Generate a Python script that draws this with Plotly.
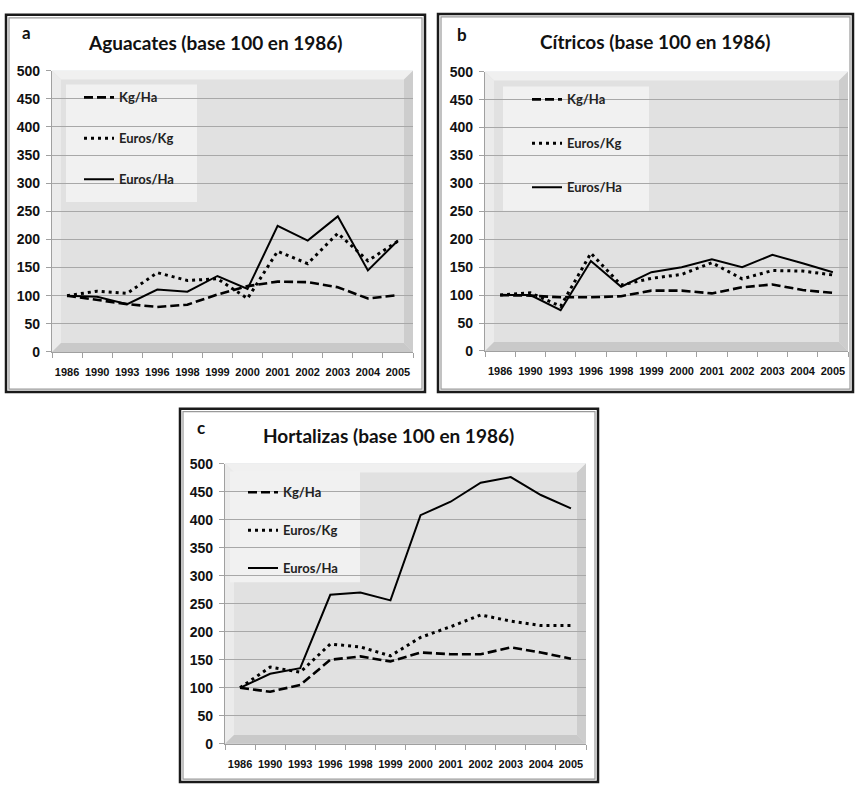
import plotly.graph_objects as go

W, H = 856, 793

years = ["1986", "1990", "1993", "1996", "1998", "1999", "2000", "2001", "2002", "2003", "2004", "2005"]
series_names = ["Kg/Ha", "Euros/Kg", "Euros/Ha"]

# Panel a: Aguacates
agu_kgha = [100, 92, 85, 80, 84, 102, 117, 125, 124, 115, 95, 101]
agu_eurkg = [100, 108, 104, 141, 127, 130, 95, 179, 157, 211, 162, 197]
agu_eurha = [100, 98, 85, 111, 107, 135, 112, 224, 198, 241, 145, 198]

# Panel b: Cítricos
cit_kgha = [100, 99, 96, 96, 98, 108, 108, 103, 114, 119, 109, 104]
cit_eurkg = [100, 104, 80, 175, 118, 130, 137, 158, 129, 144, 143, 136]
cit_eurha = [100, 100, 73, 161, 115, 141, 150, 164, 150, 172, 157, 141]

# Panel c: Hortalizas
hor_kgha = [100, 93, 105, 150, 156, 147, 163, 160, 160, 172, 163, 152]
hor_eurkg = [100, 137, 128, 178, 173, 157, 190, 209, 230, 219, 211, 211]
hor_eurha = [100, 125, 135, 266, 270, 256, 408, 432, 466, 476, 444, 420]

titles = ["Aguacates (base 100 en 1986)", "Cítricos (base 100 en 1986)", "Hortalizas (base 100 en 1986)"]
letters = ["a", "b", "c"]


def px(x):
    return x / W


def py(y):
    return 1 - y / H


panels = [
    dict(data=[agu_kgha, agu_eurkg, agu_eurha], plot=(52, 413, 64, 351), frame=(6, 425, 7, 392),
         title=(216, 35), letter=(27, 25), legbox=(66, 197, 78, 198), leg=(79, 76), gap=21),
    dict(data=[cit_kgha, cit_eurkg, cit_eurha], plot=(485, 848, 65, 350), frame=(438, 853, 6, 392),
         title=(655, 34), letter=(462, 27), legbox=(503, 649, 80, 207), leg=(527, 78), gap=24),
    dict(data=[hor_kgha, hor_eurkg, hor_eurha], plot=(225, 586, 465, 751), frame=(180, 598, 409, 790),
         title=(388, 436), letter=(201, 428), legbox=(230, 360, 473, 586), leg=(243, 479), gap=18),
]

styles = [
    dict(dash="9px,4px", width=2.6),
    dict(dash="3px,4px", width=3),
    dict(dash="solid", width=2),
]

tick_font = dict(family="Liberation Sans, Arial, sans-serif", size=14, color="#111", weight="bold")
leg_font = dict(family="Lato, Open Sans, sans-serif", size=13, color="#222", weight="bold")

fig = go.Figure()
shapes = []
annotations = []
layout = dict(width=W, height=H, margin=dict(l=0, r=0, t=0, b=0), paper_bgcolor="white",
              showlegend=True)

for i, p in enumerate(panels):
    sfx = "" if i == 0 else str(i + 1)
    x0, x1, y0, y1 = p["plot"]
    legname = "legend" + sfx
    for j, (name, vals) in enumerate(zip(series_names, p["data"])):
        fig.add_trace(go.Scatter(
            x=years, y=vals, mode="lines", name=name,
            line=dict(color="black", dash=styles[j]["dash"], width=styles[j]["width"]),
            xaxis="x" + sfx, yaxis="y" + sfx, legend=legname,
            legendgroup=f"g{i}{j}", hoverinfo="skip"))
    layout["xaxis" + sfx] = dict(
        domain=[px(x0), px(x1)], anchor="y" + sfx, type="category", range=[-0.5, 11.5],
        tickson="boundaries", ticks="outside", ticklen=5, tickcolor="#a0a0a0",
        showline=True, linecolor="#a0a0a0", linewidth=1.2, showgrid=False, tickangle=0,
        tickfont=dict(tick_font, size=11), ticklabelstandoff=10, fixedrange=True)
    layout["yaxis" + sfx] = dict(
        domain=[py(y1), py(y0)], anchor="x" + sfx, range=[0, 500], dtick=50,
        ticks="outside", ticklen=5, tickcolor="#a0a0a0",
        showline=True, linecolor="#a0a0a0", linewidth=1.2,
        showgrid=True, gridcolor="#a8a8a8", gridwidth=1, zeroline=False,
        tickfont=tick_font, ticklabelstandoff=3, fixedrange=True)
    lx, ly = p["leg"]
    layout[legname] = dict(
        x=px(lx), y=py(ly), xanchor="left", yanchor="top", bgcolor="rgba(0,0,0,0)",
        font=leg_font, tracegroupgap=p["gap"], itemwidth=30, traceorder="grouped")

    # plot background bevel
    b = 9
    shapes.append(dict(type="rect", xref="paper", yref="paper", x0=px(x0), x1=px(x1), y0=py(y1), y1=py(y0),
                       fillcolor="#e1e1e1", line=dict(width=0), layer="below"))
    def poly(pts, color):
        path = "M " + " L ".join(f"{px(a)},{py(c)}" for a, c in pts) + " Z"
        shapes.append(dict(type="path", xref="paper", yref="paper", path=path, fillcolor=color,
                           line=dict(width=0), layer="below"))
    poly([(x0, y0), (x1, y0), (x1 - b, y0 + b), (x0 + b, y0 + b)], "#f0f0f0")
    poly([(x0, y0), (x0 + b, y0 + b), (x0 + b, y1 - b), (x0, y1)], "#ebebeb")
    poly([(x1, y0), (x1, y1), (x1 - b, y1 - b), (x1 - b, y0 + b)], "#cdcdcd")
    poly([(x0, y1), (x0 + b, y1 - b), (x1 - b, y1 - b), (x1, y1)], "#c9c9c9")
    # legend box
    bx0, bx1, by0, by1 = p["legbox"]
    shapes.append(dict(type="rect", xref="paper", yref="paper", x0=px(bx0), x1=px(bx1), y0=py(by1), y1=py(by0),
                       fillcolor="#f1f1f1", line=dict(width=0), layer="between"))
    # frame
    fx0, fx1, fy0, fy1 = p["frame"]
    shapes.append(dict(type="rect", xref="paper", yref="paper", x0=px(fx0), x1=px(fx1), y0=py(fy1), y1=py(fy0),
                       line=dict(color="#1a1a1a", width=2.5), fillcolor="rgba(0,0,0,0)", layer="above"))
    shapes.append(dict(type="rect", xref="paper", yref="paper", x0=px(fx0 + 3), x1=px(fx1 - 3), y0=py(fy1 - 3), y1=py(fy0 + 3),
                       line=dict(color="#9a9a9a", width=1.2), fillcolor="rgba(0,0,0,0)", layer="above"))
    tx, ty = p["title"]
    annotations.append(dict(text=titles[i], x=px(tx), y=py(ty), xref="paper", yref="paper",
                            xanchor="center", yanchor="middle", showarrow=False,
                            font=dict(family="Lato, Open Sans, sans-serif", size=19, color="#111", weight="bold")))
    lx2, ly2 = p["letter"]
    annotations.append(dict(text=letters[i], x=px(lx2), y=py(ly2), xref="paper", yref="paper",
                            xanchor="center", yanchor="middle", showarrow=False,
                            font=dict(family="Lato, Open Sans, sans-serif", size=17, color="#111", weight="bold")))

layout["shapes"] = shapes
layout["annotations"] = annotations
fig.update_layout(**layout)
fig.write_html("out.html", config={"displayModeBar": False},
               post_script="document.body.style.margin='0';document.body.style.overflow='hidden';")
